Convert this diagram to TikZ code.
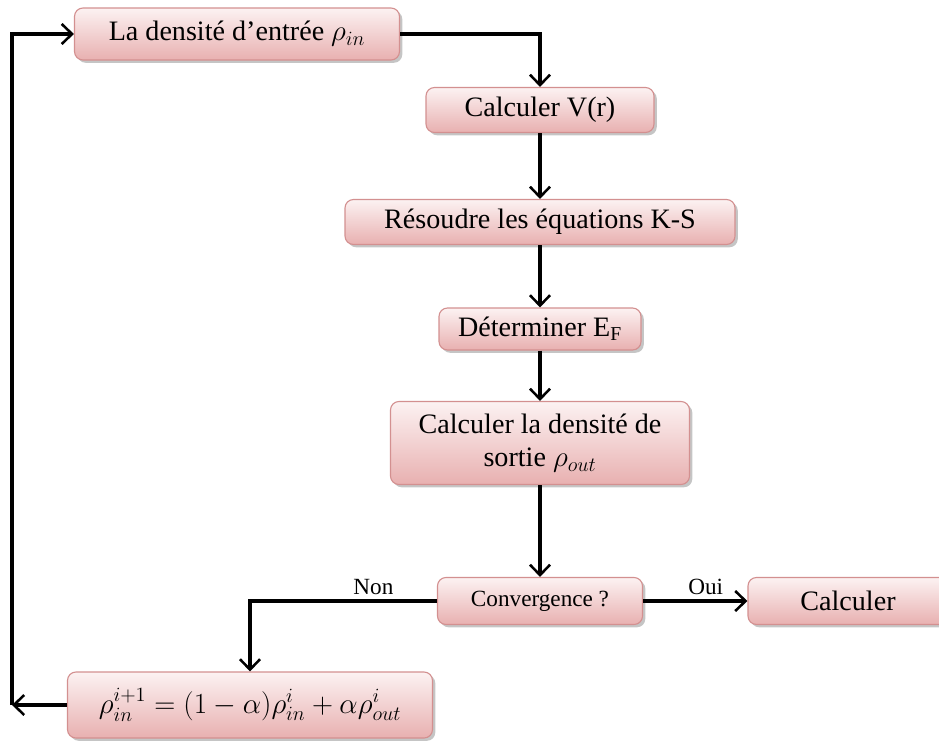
\documentclass[tikz,border=0pt]{standalone}
\usepackage{fontspec}
\setmainfont{Liberation Serif}
\usepackage{amsmath}
\usetikzlibrary{arrows.meta, shadows}

\definecolor{boxtop}{HTML}{FCF2F2}
\definecolor{boxbot}{HTML}{E8B0B0}
\definecolor{boxline}{HTML}{D39090}

\begin{document}
\begin{tikzpicture}[box/.style={rectangle, rounded corners=6pt, draw=boxline, line width=0.8pt,
				top color=boxtop, bottom color=boxbot, align=center,
				drop shadow={shadow xshift=2pt, shadow yshift=-2pt, fill=black!45},
				font=\fontsize{20}{24}\selectfont},
				   arr/.style={-{Straight Barb[length=2.6mm, width=5mm, line width=1.8pt]}, line width=2.3pt, black},
				   lab/.style={font=\fontsize{16.5}{20}\selectfont}]
\useasboundingbox (0,0) rectangle (23.475,-18.5);
\node[box, minimum width=8.125cm, minimum height=1.3cm] (dens) at (5.925,-0.85) {La densité d'entrée $\rho_{in}$};
\node[box, minimum width=5.7cm, minimum height=1.125cm] (vr) at (13.5,-2.75) {Calculer V(r)};
\node[box, minimum width=9.75cm, minimum height=1.125cm] (ks) at (13.5,-5.55) {Résoudre les équations K-S};
\node[box, minimum width=5.05cm, minimum height=1.05cm] (ef) at (13.5,-8.225) {Déterminer E\textsubscript{F}};
\node[box, minimum width=7.475cm, minimum height=2.075cm] (sortie) at (13.5,-11.075) {Calculer la densité de\\ sortie $\rho_{out}$};
\node[box, minimum width=5.125cm, minimum height=1.175cm, font=\fontsize{16.5}{20}\selectfont] (conv) at (13.5,-15.025) {Convergence ?};
\node[box, minimum width=5cm, minimum height=1.175cm] (calc) at (21.2,-15.025) {Calculer};
\node[box, minimum width=9.125cm, minimum height=1.65cm, font=\fontsize{21}{25}\selectfont] (mix) at (6.25,-17.625)
	{$\rho_{in}^{i+1} = (1-\alpha)\rho_{in}^{i} + \alpha\rho_{out}^{i}$};
\coordinate (back) at (0.3,-17.625);

\draw[arr] (dens.east) -| (vr.north);
\draw[arr] (vr) -- (ks);
\draw[arr] (ks) -- (ef);
\draw[arr] (ef) -- (sortie);
\draw[arr] (sortie) -- (conv);
\draw[arr] (conv.west) -| node[pos=0.17, above, lab] {Non} (mix.north);
\draw[arr] (conv.east) -- node[pos=0.6, above, lab] {Oui} (calc.west);
\draw[arr] (mix.west) -- (back);
\draw[arr] (back) |- (dens.west);
\end{tikzpicture}
\end{document}
